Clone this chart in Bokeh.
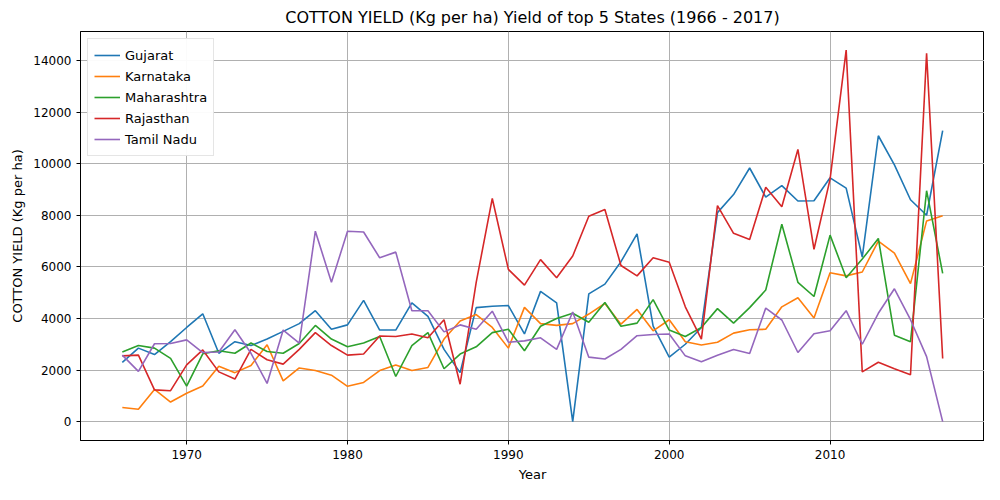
from bokeh.plotting import figure
from bokeh.models import Legend, LegendItem, FixedTicker
from bokeh.embed import file_html
from bokeh.resources import INLINE

years = list(range(1966, 2018))
gujarat = [2300, 2850, 2600, 3100, 3650, 4180, 2650, 3100, 2950, 3200, 3500, 3800, 4300, 3580, 3750, 4700, 3550, 3550, 4600, 4080, 2800, 1900, 4420, 4470, 4500, 3400, 5050, 4600, 0, 4950, 5330, 6200, 7280, 3700, 2500, 3000, 3650, 8100, 8800, 9830, 8700, 9150, 8550, 8560, 9450, 9050, 6380, 11080, 9950, 8600, 8000, 11280]
karnataka = [550, 480, 1250, 760, 1100, 1380, 2150, 1900, 2180, 2980, 1580, 2080, 1980, 1800, 1370, 1520, 1980, 2200, 1980, 2100, 3200, 3900, 4150, 3650, 2850, 4430, 3800, 3730, 3800, 4170, 4580, 3780, 4350, 3520, 3950, 3100, 2970, 3080, 3430, 3560, 3580, 4450, 4800, 4020, 5770, 5650, 5800, 7000, 6530, 5350, 7780, 7980]
maharashtra = [2700, 2950, 2850, 2450, 1380, 2630, 2750, 2650, 3050, 2720, 2650, 3030, 3730, 3200, 2900, 3050, 3300, 1750, 2950, 3450, 2050, 2620, 2900, 3450, 3580, 2750, 3700, 4000, 4200, 3850, 4620, 3700, 3820, 4730, 3550, 3300, 3650, 4380, 3820, 4420, 5100, 7650, 5400, 4850, 7230, 5580, 6300, 7100, 3350, 3100, 8950, 5750]
rajasthan = [2550, 2580, 1230, 1200, 2200, 2780, 1930, 1650, 2800, 2400, 2230, 2800, 3450, 2950, 2580, 2620, 3320, 3300, 3400, 3250, 3950, 1450, 5400, 8650, 5900, 5290, 6280, 5580, 6420, 7960, 8220, 6050, 5650, 6350, 6180, 4450, 3200, 8370, 7300, 7060, 9080, 8330, 10550, 6680, 9400, 14400, 1930, 2300, 2050, 1820, 14280, 2450]
tamil_nadu = [2580, 1950, 3020, 3030, 3170, 2680, 2700, 3560, 2650, 1480, 3550, 3040, 7380, 5400, 7380, 7350, 6350, 6570, 4300, 4300, 3480, 3750, 3580, 4280, 3080, 3130, 3250, 2800, 4250, 2500, 2430, 2800, 3330, 3380, 3400, 2550, 2320, 2570, 2800, 2640, 4400, 3940, 2680, 3410, 3520, 4300, 3000, 4200, 5150, 3950, 2520, 0]

series = [("Gujarat", gujarat, "#1f77b4"), ("Karnataka", karnataka, "#ff7f0e"),
          ("Maharashtra", maharashtra, "#2ca02c"), ("Rajasthan", rajasthan, "#d62728"),
          ("Tamil Nadu", tamil_nadu, "#9467bd")]

p = figure(width=984, height=484, output_backend="svg", toolbar_location=None,
           x_range=(1963.4, 2019.6), y_range=(-730, 15120),
           title="COTTON YIELD (Kg per ha) Yield of top 5 States (1966 - 2017)",
           min_border_left=80, min_border_right=0, min_border_top=10, min_border_bottom=10)
p.title.align = "center"
p.title.text_font = "DejaVu Sans"
p.title.text_font_size = "16px"
p.title.text_font_style = "normal"
p.title.text_color = "black"
p.xaxis.axis_label = "Year"
p.yaxis.axis_label = "COTTON YIELD (Kg per ha)"
for ax in (p.xaxis[0], p.yaxis[0]):
    ax.axis_label_text_font = "DejaVu Sans"
    ax.axis_label_text_font_size = "13px"
    ax.axis_label_text_font_style = "normal"
    ax.axis_label_text_color = "black"
    ax.major_label_text_font = "DejaVu Sans"
    ax.major_label_text_font_size = "12px"
    ax.major_label_text_color = "black"
    ax.axis_line_color = "black"
    ax.major_tick_line_color = "black"
    ax.minor_tick_line_color = None
    ax.major_tick_out = 4
    ax.major_tick_in = 0
p.xaxis.ticker = FixedTicker(ticks=[1970, 1980, 1990, 2000, 2010])
p.yaxis.ticker = FixedTicker(ticks=list(range(0, 15000, 2000)))
p.grid.grid_line_color = "#b0b0b0"
p.grid.grid_line_alpha = 1.0
p.outline_line_color = "black"

items = []
for name, vals, col in series:
    r = p.line(years, vals, line_color=col, line_width=1.6)
    items.append(LegendItem(label=name, renderers=[r]))
leg = Legend(items=items, location="top_left", label_text_font="DejaVu Sans",
             label_text_font_size="13px", label_text_color="black",
             border_line_color="#cccccc",
             spacing=1, padding=6, margin=7, glyph_width=26, label_height=18)
p.add_layout(leg)

open("out.html", "w").write(file_html(p, INLINE))
